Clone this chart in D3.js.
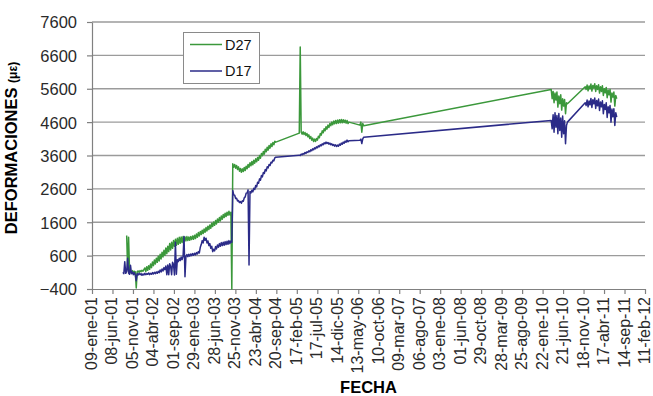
<!DOCTYPE html>
<html lang="es">
<head>
<meta charset="utf-8">
<title>Deformaciones D27 y D17</title>
<script src="https://cdn.jsdelivr.net/npm/d3@7"></script>
<style>
  html, body { margin: 0; padding: 0; background: #fff; }
  svg { display: block; }
  text { font-family: "Liberation Sans", Arial, Helvetica, sans-serif; }
</style>
</head>
<body>
<svg id="grafico" width="653" height="396"></svg>
<script>
// Marcas del eje de fechas (cada 150 días)
const fechasEje = [
  "2001-01-09", "2001-06-08", "2001-11-05", "2002-04-04", "2002-09-01", "2003-01-29",
  "2003-06-28", "2003-11-25", "2004-04-23", "2004-09-20", "2005-02-17", "2005-07-17",
  "2005-12-14", "2006-05-13", "2006-10-10", "2007-03-09", "2007-08-06", "2008-01-03",
  "2008-06-01", "2008-10-29", "2009-03-28", "2009-08-25", "2010-01-22", "2010-06-21",
  "2010-11-18", "2011-04-17", "2011-09-14", "2012-02-11"
];
const ticksY = [-400, 600, 1600, 2600, 3600, 4600, 5600, 6600, 7600];

// Primera lectura de cada campaña; las lecturas son semanales
const inicioCampanas = ["2001-08-23", "2005-03-07", "2006-05-25", "2010-03-26", "2010-11-30"];
const pasoDias = 7;

// D27 (µε), una lectura por semana; null = sin lectura
const d27Campana1 = [
  null, null, null, null, 1200, 180, 1150, 140, 120, 90, 150, 100, 130, 110, -370,
  120, 140, 100, 150, 120, 160, 130, 180,
  230, 120, 270, 160, 300, 190, 350, 240, 410, 300,
  470, 350, 520, 400, 580, 440, 640, 500, 700, 560,
  760, 610, 830, 660, 880, 720, 960, 770, 1000, 820,
  1050, 880, 1090, 910, 1120, 940, 1150, 970, 1160, 990,
  1170, 1020, 1160, 1040, 1170, 1050, 1160, 1060, 1170, 1080,
  1190, 1090, 1210, 1110, 1250, 1150, 1290, 1190, 1320, 1230,
  1360, 1260, 1400, 1300, 1440, 1340, 1480, 1380, 1520, 1420,
  1570, 1470, 1610, 1510, 1650, 1550, 1700, 1600, 1740, 1640,
  1790, 1690, 1830, 1740, 1870, 1770, 1900, 1810, 1930, 1820,
  1900, -400,
  3350, 3250, 3330, 3220, 3300, 3180, 3260, 3130, 3210, 3100,
  3200, 3120, 3240, 3150, 3280, 3200, 3330, 3250, 3380, 3290,
  3420, 3320, 3460, 3370, 3500, 3410, 3540, 3460, 3600, 3520,
  3660, 3590, 3720, 3640, 3790, 3710, 3850, 3760, 3900, 3820,
  3950, 3870, 3990, 3920, 4030, 4000
];
const d27Campana2 = [
  4270, 6850, 4300, 4240, 4310, 4230, 4290, 4200, 4260, 4160,
  4220, 4110, 4170, 4060, 4120, 4020, 4090, 4020, 4110, 4060,
  4180, 4130, 4260, 4210, 4340, 4280, 4400, 4340, 4460, 4390,
  4510, 4440, 4560, 4490, 4600, 4520, 4630, 4550, 4650, 4560,
  4660, 4570, 4670, 4580, 4680, 4580, 4670, 4590, 4660, 4570,
  4650, 4560, 4600
];
const d27Campana3 = [4510, 4600, 4300, 4560, 4490];
const d27Campana4 = [
  5580, 5300, 5520, 5180, 5470, 5260, 5500, 5050, 5380, 5150,
  5420, 4960, 5300, 5080, 5280, 4850, 5180, 5150
];
const d27Campana5 = [
  5660, 5580, 5710, 5540, 5680, 5600, 5740, 5530, 5700, 5620,
  5750, 5520, 5690, 5580, 5720, 5470, 5660, 5520, 5690, 5400,
  5600, 5480, 5640, 5330, 5560, 5420, 5580, 5200, 5470, 5350,
  5500, 5080, 5400, 5300
];

// D17 (µε), una lectura por semana
const d17Campana1 = [
  100, 60, 420, 70, 130, 520, 80, 40, 310, 60, 110, 30, 90, 20,
  -150,
  60, 20, 70, 30, 60, 10, 50, 20, 70, 30,
  60, 40, 80, 30, 70, 40, 90, 50, 100, 60,
  110, 70, 130, 90, 170, 110, 200, 140,
  240, 180, 290, 30, 320, 30, 360, 280, 30, 400,
  330, 20, 1000, 40, 480, 420, 520, 450, 560, 480,
  580, 1170, -30,
  580, 630, 570, 640, 580, 650, 600, 660, 610, 670,
  620, 690, 650, 720, 680, 850, 930, 1050, 980, 1150,
  1060, 1120, 980, 1040, 900, 960, 820, 880, 720, 790,
  740, 870, 800, 920, 850, 960, 880, 990, 900, 1000,
  910, 1020, 930, 1030, 940, 1050, 960, 1040, 1000,
  2550, 2420, 2410, 2310, 2320, 2240, 2250, 2190, 2220, 2170,
  2240, 2230, 2330, 2360, 2470, 2480, 2570,
  320,
  2520, 2480, 2560, 2510, 2620, 2580, 2700, 2660, 2800, 2770,
  2900, 2860, 3000, 2960, 3090, 3060, 3180, 3140, 3260, 3230,
  3330, 3300, 3400, 3380, 3460, 3440, 3530, 3550
];
const d17Campana2 = [
  3610, 3600, 3640, 3620, 3660, 3640, 3690, 3660, 3710, 3690,
  3740, 3710, 3770, 3740, 3800, 3770, 3830, 3800, 3860, 3830,
  3890, 3860, 3920, 3890, 3950, 3920, 3980, 3950, 4000, 3960,
  3990, 3940, 3970, 3920, 3950, 3900, 3930, 3880, 3920, 3870,
  3910, 3880, 3940, 3910, 3970, 3940, 4000, 3970, 4030, 4000,
  4060, 4010, 4040
];
const d17Campana3 = [4060, 4090, 3960, 4100, 4150];
const d17Campana4 = [
  4650, 4400, 4820, 4300, 4880, 4450, 4800, 4250, 4860, 4350,
  4720, 4150, 4780, 4250, 4640, 3950, 4500, 4600
];
const d17Campana5 = [
  5180, 5100, 5260, 5060, 5230, 5120, 5310, 5040, 5270, 5150,
  5320, 5010, 5250, 5090, 5290, 4950, 5200, 5060, 5240, 4850,
  5130, 4980, 5180, 4740, 5060, 4880, 5100, 4600, 4990, 4760,
  5000, 4500, 4880, 4750
];

const series = [
  { nombre: "D27", color: "#3b983b",
    campanas: [d27Campana1, d27Campana2, d27Campana3, d27Campana4, d27Campana5] },
  { nombre: "D17", color: "#2b2b88",
    campanas: [d17Campana1, d17Campana2, d17Campana3, d17Campana4, d17Campana5] }
];

const parse = d3.utcParse("%Y-%m-%d");
const es = d3.timeFormatLocale({
  dateTime: "%A, %e de %B de %Y, %X", date: "%d/%m/%Y", time: "%H:%M:%S",
  periods: ["AM", "PM"],
  days: ["domingo", "lunes", "martes", "miércoles", "jueves", "viernes", "sábado"],
  shortDays: ["dom", "lun", "mar", "mié", "jue", "vie", "sáb"],
  months: ["enero", "febrero", "marzo", "abril", "mayo", "junio", "julio", "agosto",
           "septiembre", "octubre", "noviembre", "diciembre"],
  shortMonths: ["ene", "feb", "mar", "abr", "may", "jun", "jul", "ago", "sep", "oct", "nov", "dic"]
});
const formatoFecha = es.utcFormat("%d-%b-%y");

const area = { left: 92, right: 645, top: 22, bottom: 289 };
const svg = d3.select("#grafico");
svg.append("rect").attr("width", 653).attr("height", 396).attr("fill", "#fff");

const marcas = fechasEje.map(parse);
const x = d3.scaleUtc()
  .domain([marcas[0], marcas[marcas.length - 1]])
  .range([area.left, area.right]);
const y = d3.scaleLinear()
  .domain([ticksY[0], ticksY[ticksY.length - 1]])
  .range([area.bottom, area.top]);

// Líneas de división horizontales
svg.append("g")
  .selectAll("line")
  .data(ticksY.slice(1))
  .join("line")
  .attr("x1", area.left).attr("x2", area.right)
  .attr("y1", d => y(d)).attr("y2", d => y(d))
  .attr("stroke", "#9b9b9b").attr("stroke-width", 1.3);

// Eje Y
const ejeY = svg.append("g")
  .attr("transform", `translate(${area.left},0)`)
  .call(d3.axisLeft(y).tickValues(ticksY).tickSize(5).tickSizeOuter(0).tickPadding(10)
    .tickFormat(d3.format("d")));
ejeY.select(".domain").attr("stroke", "#808080").attr("stroke-width", 1.2);
ejeY.selectAll(".tick line").attr("stroke", "#808080").attr("stroke-width", 1.2);
ejeY.selectAll("text")
  .attr("font-size", "16.5px").attr("fill", "#2a2a2a").attr("dy", "0.36em");

// Eje X
const ejeX = svg.append("g")
  .attr("transform", `translate(0,${area.bottom})`)
  .call(d3.axisBottom(x).tickValues(marcas).tickSize(5).tickSizeOuter(0)
    .tickFormat(formatoFecha));
ejeX.select(".domain").attr("stroke", "#808080").attr("stroke-width", 1.2);
ejeX.selectAll(".tick line").attr("stroke", "#808080").attr("stroke-width", 1.2);
ejeX.selectAll("text")
  .attr("transform", "rotate(-90)")
  .attr("text-anchor", "end")
  .attr("x", -8).attr("y", 0).attr("dy", "0.28em")
  .attr("font-size", "16px").attr("fill", "#2a2a2a");

// Series
const linea = d3.line()
  .x(d => x(d.fecha))
  .y(d => y(d.valor));

series.forEach(s => {
  const puntos = [];
  s.campanas.forEach((valores, k) => {
    const inicio = parse(inicioCampanas[k]);
    valores.forEach((v, j) => {
      if (v !== null) puntos.push({ fecha: d3.utcDay.offset(inicio, pasoDias * j), valor: v });
    });
  });
  svg.append("path")
    .datum(puntos)
    .attr("d", linea)
    .attr("fill", "none")
    .attr("stroke", s.color)
    .attr("stroke-width", 1.5)
    .attr("stroke-linejoin", "round");
});

// Leyenda
const leyenda = svg.append("g");
leyenda.append("rect")
  .attr("x", 183.5).attr("y", 32.5).attr("width", 76).attr("height", 51)
  .attr("fill", "#fff").attr("stroke", "#8a8a8a").attr("stroke-width", 1);
series.forEach((s, i) => {
  const yy = 44.5 + i * 26.5;
  leyenda.append("line")
    .attr("x1", 190).attr("x2", 222).attr("y1", yy).attr("y2", yy)
    .attr("stroke", s.color).attr("stroke-width", 1.5);
  leyenda.append("text")
    .attr("x", 225).attr("y", yy).attr("dy", "0.36em")
    .attr("font-size", "14.5px").attr("fill", "#111")
    .text(s.nombre);
});

// Títulos de los ejes
svg.append("text")
  .attr("x", (area.left + area.right) / 2).attr("y", 392.5)
  .attr("text-anchor", "middle")
  .attr("font-size", "16.5px").attr("font-weight", "bold").attr("fill", "#000")
  .text("FECHA");

const tituloY = svg.append("text")
  .attr("transform", "translate(17,148) rotate(-90)")
  .attr("text-anchor", "middle")
  .attr("font-size", "16.5px").attr("font-weight", "bold").attr("fill", "#000");
tituloY.append("tspan").text("DEFORMACIONES ");
tituloY.append("tspan").attr("font-size", "12px").text("(με)");
</script>
</body>
</html>
